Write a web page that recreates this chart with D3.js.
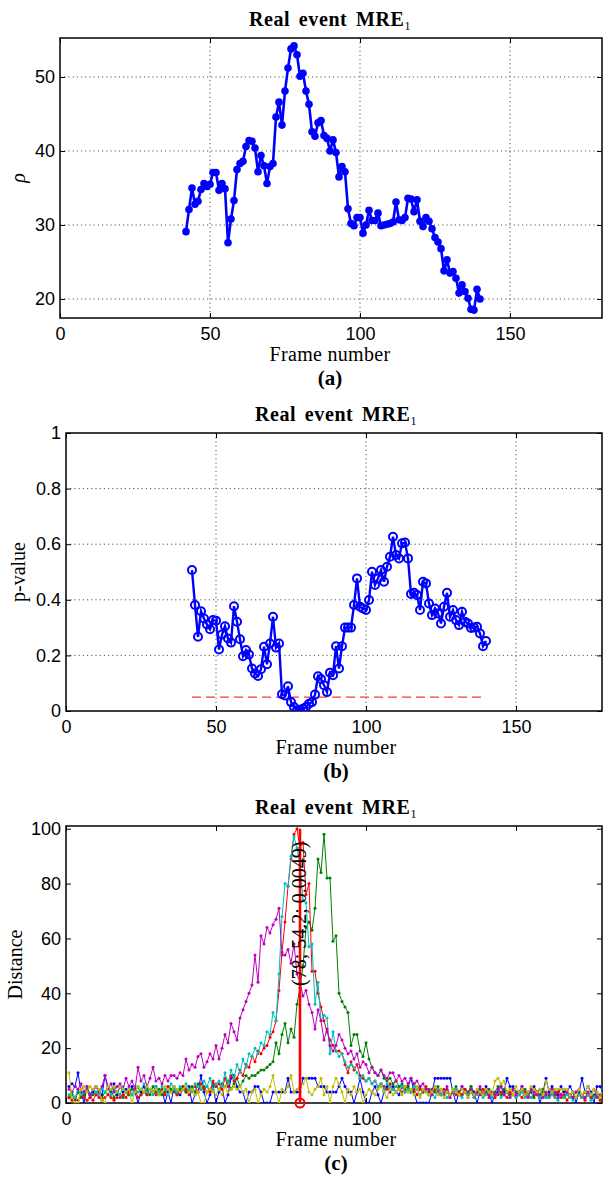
<!DOCTYPE html>
<html>
<head>
<meta charset="utf-8">
<script src="https://cdnjs.cloudflare.com/ajax/libs/d3/7.8.5/d3.min.js"></script>
<style>
	body { margin: 0; background: #fff; }
	svg { display: block; }
	.tick text { font-family: "Liberation Sans", Arial, sans-serif; font-size: 18px; fill: #000; }
	.tick line { stroke: #000; }
	.serif { font-family: "Liberation Serif", "DejaVu Serif", serif; fill: #000; }
</style>
</head>
<body>
<svg id="chart" width="603" height="1182"></svg>
<script>

// ---- data ----

var xTicks = [0, 50, 100, 150];

// (a) rho per frame, frames 42..140
var rhoStartFrame = 42;
var rhoValues = [
	29.1, 32.1, 35.0, 32.8, 33.2, 34.8, 35.6, 35.2, 35.5, 37.1,
	37.1, 34.7, 35.6, 34.9, 27.6, 30.8, 33.3, 37.5, 38.3, 38.6,
	40.6, 41.4, 41.3, 40.4, 37.2, 39.4, 38.0, 35.6, 37.9, 38.3,
	44.6, 46.6, 43.5, 48.1, 51.2, 53.8, 54.2, 53.0, 50.1, 50.5,
	48.1, 46.3, 42.6, 42.0, 43.8, 44.1, 42.1, 41.7, 40.0, 41.5,
	39.8, 36.5, 37.9, 37.2, 32.2, 30.2, 29.9, 31.0, 31.0, 28.9,
	30.0, 32.0, 30.6, 30.6, 31.6, 29.9, 30.0, 30.1, 30.2, 30.4,
	33.1, 30.7, 30.6, 31.0, 33.6, 33.5, 31.8, 33.4, 30.5, 29.8,
	31.0, 30.5, 29.5, 28.3, 27.7, 26.8, 23.8, 25.3, 23.5, 23.7,
	22.8, 20.8, 21.9, 21.0, 20.1, 18.6, 18.5, 21.3, 20.0
];
var rhoTicks = [20, 30, 40, 50];

// (b) p-value per frame, frames 42..140
var pStartFrame = 42;
var pValues = [
	0.507, 0.381, 0.267, 0.359, 0.333, 0.311, 0.294, 0.327, 0.325, 0.221,
	0.275, 0.305, 0.261, 0.246, 0.377, 0.321, 0.258, 0.197, 0.219, 0.203,
	0.153, 0.135, 0.126, 0.150, 0.231, 0.168, 0.243, 0.339, 0.228, 0.243,
	0.060, 0.056, 0.089, 0.032, 0.014, 0.003, 0.0049, 0.008, 0.014, 0.026,
	0.032, 0.059, 0.125, 0.115, 0.093, 0.068, 0.138, 0.129, 0.233, 0.153,
	0.233, 0.300, 0.300, 0.300, 0.381, 0.477, 0.375, 0.369, 0.363, 0.399,
	0.501, 0.453, 0.477, 0.507, 0.465, 0.519, 0.555, 0.627, 0.561, 0.549,
	0.603, 0.606, 0.549, 0.421, 0.425, 0.417, 0.363, 0.465, 0.459, 0.387,
	0.345, 0.369, 0.351, 0.315, 0.375, 0.425, 0.339, 0.363, 0.327, 0.309,
	0.357, 0.321, 0.315, 0.299, 0.300, 0.303, 0.279, 0.233, 0.252
];
var pThreshold = 0.05;
var pTicks = [0, 0.2, 0.4, 0.6, 0.8, 1];

// (c) distance curves, frames 1..180
var distBlue = [
	6,7,6,11,4,0,6,3,4,6, 4,3,10,6,4,7,3,6,4,5, 3,6,4,0,4,6,3,5,4,6, 3,5,0,4,0,6,4,3,5,4,
	6,0,3,4,10,4,0,3,6,0, 4,6,0,3,9,10,6,4,4,0, 4,4,6,6,4,0,0,0,4,4, 4,4,4,9,4,4,4,4,9,9,
	9,9,9,6,6,6,4,4,4,4, 6,9,6,4,4,0,4,9,4,0, 0,4,6,3,0,4,6,4,6,4, 3,6,4,6,9,4,0,0,0,0,
	0,4,9,9,9,9,9,9,4,0, 4,6,4,3,6,4,0,4,3,6, 4,0,3,4,6,4,9,6,6,4, 4,6,3,4,4,6,4,0,4,9,
	4,6,4,3,6,4,4,6,4,0, 4,9,4,6,4,0,6,6,4,0
];
var distGreen = [
	2,3,1,4,2,3,5,2,3,4, 3,2,4,3,5,2,4,3,2,4, 3,5,4,6,3,4,5,3,6,4, 5,3,4,6,5,4,3,5,6,4,
	5,6,4,7,5,6,4,5,7,6, 5,7,6,8,5,7,9,6,8,10, 9,10,10,11,12,12,13,14,15,22, 18,25,29,22,27,24,36,42,50,64,
	66,63,71,89,84,98,82,82,59,61, 40,37,35,33,21,25,25,19,17,22, 16,13,11,10,12,9,8,9,7,8, 6,7,5,6,4,7,5,6,4,5,
	3,5,4,6,3,4,5,3,4,6, 4,3,5,4,6,3,4,5,3,4, 5,3,4,6,3,5,4,3,5,4, 3,4,5,3,4,2,4,3,5,3,
	2,4,3,5,3,2,4,3,2,4, 3,2,4,3,2,3,4,2,3,2
];
var distRed = [
	2,1,2,1,3,2,1,2,1,3, 2,1,2,3,2,1,2,2,3,2, 4,3,5,2,3,4,3,5,4,3, 4,5,3,6,4,5,3,4,6,5,
	3,5,6,4,7,5,6,4,8,6, 7,5,9,6,10,8,9,12,10,14, 13,17,15,19,18,20,21,24,26,30, 41,55,66,79,89,98,100,93,95,76,
	80,48,48,40,35,30,26,23,21,19, 19,18,14,11,15,12,14,10,9,8, 9,7,8,6,7,6,5,7,5,6, 5,4,6,5,4,5,3,5,4,6,
	4,3,5,4,3,5,4,2,4,3, 4,3,5,3,4,2,4,3,5,3, 3,4,2,3,4,3,2,4,3,2, 3,2,4,3,2,3,4,2,3,2,
	2,3,2,4,2,3,1,3,2,2, 3,2,1,3,2,2,3,1,2,2
];
var distCyan = [
	3,4,2,5,3,4,6,3,5,4, 3,5,4,6,3,5,4,3,6,4, 5,3,6,4,5,7,4,5,3,6, 4,6,5,3,7,5,4,6,5,7,
	5,4,7,6,5,8,6,9,5,7, 8,6,11,7,12,9,14,11,16,13, 18,17,20,18,22,21,26,25,33,30, 47,68,80,79,90,97,93,87,74,73,
	57,58,36,44,30,32,31,18,26,19, 17,18,15,13,14,13,11,9,10,8, 9,7,8,6,7,5,7,6,5,6, 5,6,4,5,4,6,5,3,5,4,
	3,4,2,5,3,4,2,3,4,5, 3,2,4,3,5,2,3,4,2,3, 4,2,3,5,2,3,4,2,3,2, 3,4,2,3,2,4,3,2,3,2,
	2,3,2,1,3,2,3,2,1,2, 3,2,2,3,1,2,3,2,2,1
];
var distMagenta = [
	5,4,6,5,7,4,6,3,5,6, 4,6,10,5,7,4,6,7,5,9, 6,8,5,13,8,10,6,9,13,8, 9,7,10,8,10,10,9,11,10,16,
	12,14,13,17,18,13,15,18,16,21, 16,20,25,22,29,26,23,31,34,37, 40,43,54,44,61,58,64,62,65,67, 71,54,54,56,51,58,47,44,39,41,
	36,33,27,34,30,23,27,21,19,21, 25,23,20,18,19,16,18,13,15,14, 11,13,11,10,12,10,9,11,11,8, 10,8,9,7,9,7,8,6,7,5,
	5,3,6,4,5,3,6,2,5,4, 3,6,4,2,5,3,4,6,3,5, 2,4,3,5,6,3,4,2,5,3, 4,6,3,2,5,4,3,5,2,4,
	3,5,4,2,3,5,4,3,2,4, 5,3,2,4,3,5,2,3,4,3
];
var distYellow = [
	11,2,0,0,5,6,4,6,5,6, 5,1,0,6,5,6,4,6,5,4, 5,0,4,6,5,4,6,5,4,5, 3,4,6,5,4,6,5,4,5,6,
	4,5,3,4,0,0,4,5,4,3, 5,3,6,4,5,6,5,6,4,5, 0,4,5,0,3,5,4,6,10,4, 0,5,4,6,10,4,5,6,7,9,
	4,3,5,6,9,3,6,0,6,9, 7,4,0,5,3,6,4,5,0,3, 5,4,3,5,6,4,2,5,3,4, 5,3,6,4,5,3,6,2,5,4,
	3,4,6,3,5,2,4,3,5,4, 3,5,4,2,4,3,5,4,3,5, 4,3,8,9,7,8,4,5,3,6, 4,5,3,4,6,5,4,5,3,8,
	5,4,5,5,5,5,5,3,4,2, 5,3,4,6,3,5,4,2,5,3
];
var distSeries = [distBlue, distGreen, distRed, distCyan, distMagenta, distYellow];
var distColors = ["#0000ff", "#008000", "#ff0000", "#00bfbf", "#bf00bf", "#bfbf00"];
var distTicks = [0, 20, 40, 60, 80, 100];

// the selected frame: (frame; rho; p-value)
var pick = { frame: 78, rho: 54.2, p: 0.0049 };

// ---- drawing ----

var svg = d3.select("#chart");

function drawPanel(p) {
	var g = svg.append("g");
	var x = d3.scaleLinear().domain([0, 180]).range([p.left, p.left + 540]);
	var y = d3.scaleLinear().domain(p.yDomain).range([p.bottom, p.top]);
	var right = 602;

	g.append("clipPath").attr("id", p.id)
		.append("rect")
		.attr("x", p.left).attr("y", p.top)
		.attr("width", right - p.left).attr("height", p.bottom - p.top);

	// dotted grid
	if (p.grid) {
		g.selectAll("line.gx").data(xTicks.slice(1)).enter()
			.append("line")
			.attr("x1", function(d) { return x(d); }).attr("x2", function(d) { return x(d); })
			.attr("y1", p.top).attr("y2", p.bottom)
			.attr("stroke", "#555").attr("stroke-dasharray", "1.2,3");
		g.selectAll("line.gy").data(p.yTicks.filter(function(d) { return y(d) > p.top + 1 && y(d) < p.bottom - 1; })).enter()
			.append("line")
			.attr("x1", p.left).attr("x2", right)
			.attr("y1", function(d) { return y(d); }).attr("y2", function(d) { return y(d); })
			.attr("stroke", "#555").attr("stroke-dasharray", "1.2,3");
	}

	// axes, matlab style inward ticks
	var bottom = g.append("g").attr("transform", "translate(0," + p.bottom + ")")
		.call(d3.axisBottom(x).tickValues(xTicks).tickSizeInner(-5).tickSizeOuter(0).tickPadding(9));
	var top = g.append("g").attr("transform", "translate(0," + p.top + ")")
		.call(d3.axisTop(x).tickValues(xTicks).tickSizeInner(-5).tickSizeOuter(0).tickFormat(""));
	var left = g.append("g").attr("transform", "translate(" + p.left + ",0)")
		.call(d3.axisLeft(y).tickValues(p.yTicks).tickSizeInner(-5).tickSizeOuter(0).tickPadding(5).tickFormat(p.format));
	var rightAx = g.append("g").attr("transform", "translate(" + right + ",0)")
		.call(d3.axisRight(y).tickValues(p.yTicks).tickSizeInner(-5).tickSizeOuter(0).tickFormat(""));
	[bottom, top, left, rightAx].forEach(function(a) { a.select(".domain").remove(); });

	g.append("rect")
		.attr("x", p.left).attr("y", p.top)
		.attr("width", right - p.left).attr("height", p.bottom - p.top)
		.attr("fill", "none").attr("stroke", "#000").attr("stroke-width", 1.5);

	// title
	var t = g.append("text").attr("class", "serif")
		.attr("x", p.left + 270).attr("y", p.top - 12)
		.attr("text-anchor", "middle").attr("font-size", 20).attr("font-weight", "bold")
		.attr("letter-spacing", 0.6).attr("word-spacing", 3);
	t.append("tspan").text("Real event MRE");
	t.append("tspan").attr("font-size", 12).attr("font-weight", "normal").attr("dy", 4).text("1");

	g.append("text").attr("class", "serif")
		.attr("x", p.left + 270).attr("y", p.bottom + 43)
		.attr("text-anchor", "middle").attr("font-size", 20).attr("letter-spacing", 0.3)
		.text("Frame number");

	g.append("text").attr("class", "serif")
		.attr("x", p.left + 270).attr("y", p.bottom + 67)
		.attr("text-anchor", "middle").attr("font-size", 21).attr("font-weight", "bold")
		.text(p.letter);

	g.append("text").attr("class", "serif")
		.attr("transform", "translate(" + p.ylabelX + "," + ((p.top + p.bottom) / 2) + ") rotate(-90)")
		.attr("text-anchor", "middle").attr("font-size", 20)
		.attr("font-style", p.italic ? "italic" : "normal")
		.text(p.ylabel);

	var plot = g.append("g").attr("clip-path", "url(#" + p.id + ")");
	return { x: x, y: y, plot: plot, g: g };
}

// (a) rho
var a = drawPanel({ id: "clipA", left: 60, top: 38, bottom: 318, yDomain: [17.43, 55.27], yTicks: rhoTicks,
	format: d3.format("d"), grid: true, letter: "(a)", ylabel: "ρ", italic: true, ylabelX: 25 });
var rhoData = rhoValues.map(function(v, i) { return [rhoStartFrame + i, v]; });
a.plot.append("path")
	.datum(rhoData)
	.attr("d", d3.line().x(function(d) { return a.x(d[0]); }).y(function(d) { return a.y(d[1]); }))
	.attr("fill", "none").attr("stroke", "#0000ff").attr("stroke-width", 2.6);
a.plot.selectAll("circle").data(rhoData).enter()
	.append("circle")
	.attr("cx", function(d) { return a.x(d[0]); })
	.attr("cy", function(d) { return a.y(d[1]); })
	.attr("r", 3.8).attr("fill", "#0000ff");

// (b) p-value
var b = drawPanel({ id: "clipB", left: 66, top: 433, bottom: 711, yDomain: [0, 1], yTicks: pTicks,
	format: function(d) { return d === 0 || d === 1 ? d3.format("d")(d) : d3.format(".1f")(d); },
	grid: true, letter: "(b)", ylabel: "p-value", italic: false, ylabelX: 25 });
var pData = pValues.map(function(v, i) { return [pStartFrame + i, v]; });
b.plot.append("line")
	.attr("x1", b.x(pStartFrame)).attr("x2", b.x(pStartFrame + pValues.length - 1))
	.attr("y1", b.y(pThreshold)).attr("y2", b.y(pThreshold))
	.attr("stroke", "#f03c3c").attr("stroke-width", 1.4).attr("stroke-dasharray", "9,5");
b.plot.append("path")
	.datum(pData)
	.attr("d", d3.line().x(function(d) { return b.x(d[0]); }).y(function(d) { return b.y(d[1]); }))
	.attr("fill", "none").attr("stroke", "#0000ff").attr("stroke-width", 2.4);
b.plot.selectAll("circle").data(pData).enter()
	.append("circle")
	.attr("cx", function(d) { return b.x(d[0]); })
	.attr("cy", function(d) { return b.y(d[1]); })
	.attr("r", 4).attr("fill", "none").attr("stroke", "#0000ff").attr("stroke-width", 2);

// (c) distances
var c = drawPanel({ id: "clipC", left: 66, top: 826, bottom: 1103, yDomain: [0, 101], yTicks: distTicks,
	format: d3.format("d"), grid: false, letter: "(c)", ylabel: "Distance", italic: false, ylabelX: 22 });
distSeries.forEach(function(series, k) {
	var data = series.map(function(v, i) { return [i + 1, v]; });
	var s = c.plot.append("g");
	s.append("path")
		.datum(data)
		.attr("d", d3.line().x(function(d) { return c.x(d[0]); }).y(function(d) { return c.y(d[1]); }))
		.attr("fill", "none").attr("stroke", distColors[k]).attr("stroke-width", 1);
	s.selectAll("circle").data(data).enter()
		.append("circle")
		.attr("cx", function(d) { return c.x(d[0]); })
		.attr("cy", function(d) { return c.y(d[1]); })
		.attr("r", 1.5).attr("fill", distColors[k]);
});

// stem at the picked frame
c.plot.append("line")
	.attr("x1", c.x(pick.frame)).attr("x2", c.x(pick.frame))
	.attr("y1", c.y(0)).attr("y2", c.y(100))
	.attr("stroke", "#ff0000").attr("stroke-width", 2.6);
c.g.append("circle")
	.attr("cx", c.x(pick.frame)).attr("cy", c.y(0))
	.attr("r", 4.5).attr("fill", "none").attr("stroke", "#ff0000").attr("stroke-width", 2);
c.g.append("text").attr("class", "serif")
	.attr("transform", "translate(" + (c.x(pick.frame) + 6) + "," + c.y(69) + ") rotate(-90)")
	.attr("text-anchor", "middle").attr("font-size", 20)
	.text("(" + pick.frame + "; " + pick.rho + "; " + pick.p + ")");

</script>
</body>
</html>
